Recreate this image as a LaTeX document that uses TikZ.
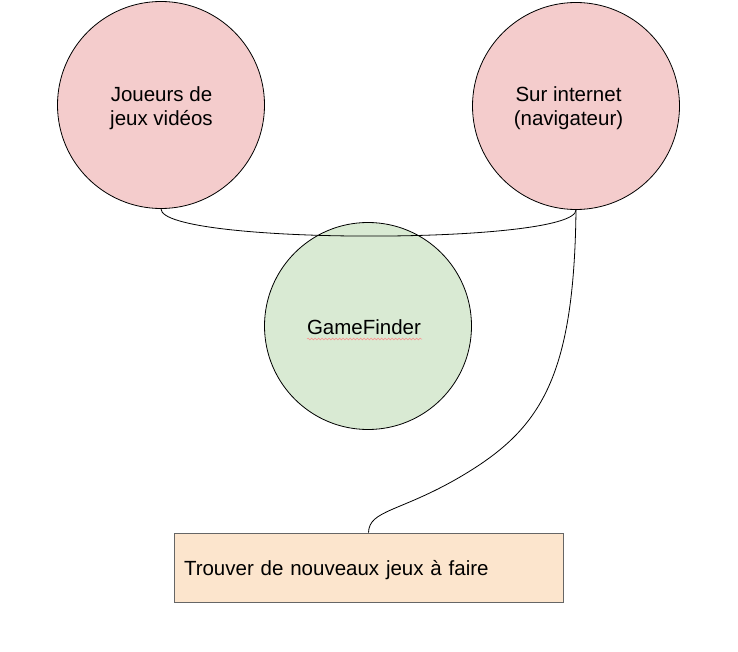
\documentclass[tikz,border=0pt]{standalone}
\usepackage{fontspec}
\setmainfont{Liberation Sans}
\usetikzlibrary{decorations.pathmorphing}
\definecolor{pinkfill}{HTML}{F4CCCC}
\definecolor{greenfill}{HTML}{D9EAD3}
\definecolor{orangefill}{HTML}{FCE5CD}
\definecolor{rectline}{HTML}{666666}
\begin{document}
\begin{tikzpicture}[x=1pt,y=-1pt,
  bubble/.style={circle, draw=black, line width=0.8pt, minimum size=207pt, inner sep=0pt},
  label text/.style={font=\fontsize{20.5}{23.5}\selectfont, align=center, inner sep=0pt},
  goalbox/.style={rectangle, draw=rectline, line width=0.8pt, fill=orangefill,
    minimum width=389pt, minimum height=69pt, inner xsep=10pt, text width=369pt, align=left,
    text height=15pt, text depth=0pt,
    font=\fontsize{20.5}{23.5}\selectfont},
  link/.style={draw=black, line width=0.8pt}
]
\useasboundingbox (0,0) rectangle (738,652);
\node[bubble, fill=pinkfill] (j) at (161,105) {};
\node[bubble, fill=pinkfill] (s) at (576,106) {};
\node[bubble, fill=greenfill] (g) at (368,326) {};
\node[label text] (jt) at (161.5,108) {Joueurs de\\jeux vidéos};
\node[label text] (st) at (568.5,108) {Sur internet\\(navigateur)};
\node[label text] (gt) at (364,327) {GameFinder};
\coordinate (wl) at (307,339);
\coordinate (wr) at (422,339);
\draw[red!45, line width=0.5pt, decorate, decoration={snake, amplitude=0.9pt, segment length=3.5pt}] (wl) -- (wr);
\node[goalbox] (t) at (368.5,567.5) {Trouver de nouveaux jeux à faire};
\draw[link] (j.south) .. controls (161,245) and (576,245) .. (s.south);
\draw[link] (s.south) .. controls (574,380) and (540,430) .. (460,477)
  .. controls (400,512) and (369,510) .. (t.north);
\end{tikzpicture}
\end{document}
